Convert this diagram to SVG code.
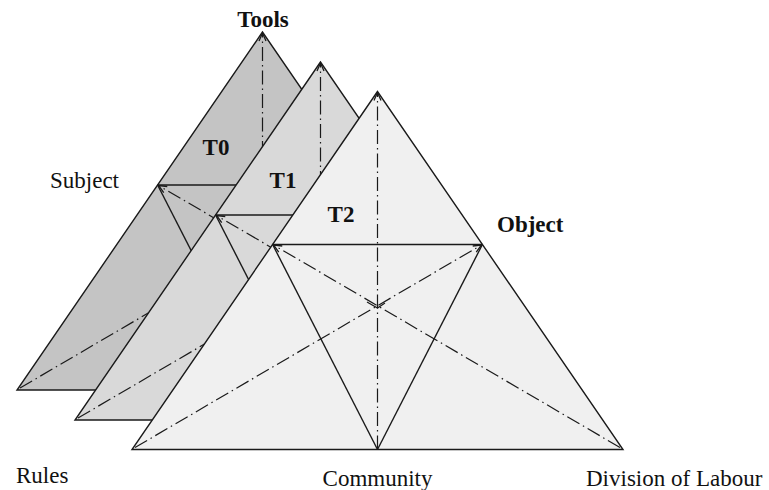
<svg xmlns="http://www.w3.org/2000/svg" width="769" height="490" viewBox="0 0 769 490">
<defs>
<marker id="arr" markerUnits="userSpaceOnUse" markerWidth="12" markerHeight="10" viewBox="-1 -5 12 10" refX="8" refY="0" orient="auto">
<path d="M0,-3.5 L8,0 L0,3.5" fill="none" stroke="#1a1a1a" stroke-width="1.3"/>
</marker>
<style>
.t0{fill:#c4c4c4}
.t1{fill:#d9d9d9}
.t2{fill:#f0f0f0}
.edge{stroke:#1a1a1a;stroke-width:1.4;stroke-linejoin:miter}
.solid{stroke:#1a1a1a;stroke-width:1.4;fill:none}
.dd{stroke:#1a1a1a;stroke-width:1.2;fill:none;stroke-dasharray:14 4 1.5 4;marker-end:url(#arr)}
.v{stroke:#1a1a1a;stroke-width:1.2;fill:none}
.lab{font-family:"Liberation Serif","Times New Roman",serif;font-size:23px;fill:#111}
.bold{font-weight:bold}
</style>
</defs>

<g id="T0" transform="translate(-115,-59.5)">
<polygon class="t0 edge" points="377.5,91.5 132,449.5 623,449.5"/>
<line class="solid" x1="272.6" y1="244.5" x2="482.4" y2="244.5"/>
<line class="solid" x1="272.6" y1="244.5" x2="377.5" y2="449.5"/>
<line class="solid" x1="482.4" y1="244.5" x2="377.5" y2="449.5"/>
<g class="connectors">
<line class="dd" x1="377.5" y1="449.5" x2="377.5" y2="92.5"/>
<line class="dd" x1="620" y1="447.5" x2="273.6" y2="245"/>
<line class="dd" x1="135" y1="447.5" x2="481.4" y2="245"/>
<path class="v" d="M367,302 L377.5,308 L385,303"/>
</g>
</g>

<g id="T1" transform="translate(-57,-29.5)">
<polygon class="t1 edge" points="377.5,91.5 132,449.5 623,449.5"/>
<line class="solid" x1="272.6" y1="244.5" x2="482.4" y2="244.5"/>
<line class="solid" x1="272.6" y1="244.5" x2="377.5" y2="449.5"/>
<line class="solid" x1="482.4" y1="244.5" x2="377.5" y2="449.5"/>
<g class="connectors">
<line class="dd" x1="377.5" y1="449.5" x2="377.5" y2="92.5"/>
<line class="dd" x1="620" y1="447.5" x2="273.6" y2="245"/>
<line class="dd" x1="135" y1="447.5" x2="481.4" y2="245"/>
<path class="v" d="M367,302 L377.5,308 L385,303"/>
</g>
</g>

<g id="T2">
<polygon class="t2 edge" points="377.5,91.5 132,449.5 623,449.5"/>
<line class="solid" x1="272.6" y1="244.5" x2="482.4" y2="244.5"/>
<line class="solid" x1="272.6" y1="244.5" x2="377.5" y2="449.5"/>
<line class="solid" x1="482.4" y1="244.5" x2="377.5" y2="449.5"/>
<g id="connectors">
<line class="dd" x1="377.5" y1="449.5" x2="377.5" y2="92.5"/>
<line class="dd" x1="620" y1="447.5" x2="273.6" y2="245"/>
<line class="dd" x1="135" y1="447.5" x2="481.4" y2="245"/>
<path class="v" d="M367,302 L377.5,308 L385,303"/>
</g>
</g>

<g id="labels">
<text class="lab bold" x="263" y="27" text-anchor="middle">Tools</text>
<text class="lab bold" x="216" y="155" text-anchor="middle">T0</text>
<text class="lab bold" x="283" y="188" text-anchor="middle">T1</text>
<text class="lab bold" x="341" y="222" text-anchor="middle">T2</text>
<text class="lab" x="50" y="188">Subject</text>
<text class="lab bold" x="497" y="232">Object</text>
<text class="lab" x="16" y="483">Rules</text>
<text class="lab" x="377.5" y="486" text-anchor="middle">Community</text>
<text class="lab" x="586" y="486">Division of Labour</text>
</g>
</svg>
